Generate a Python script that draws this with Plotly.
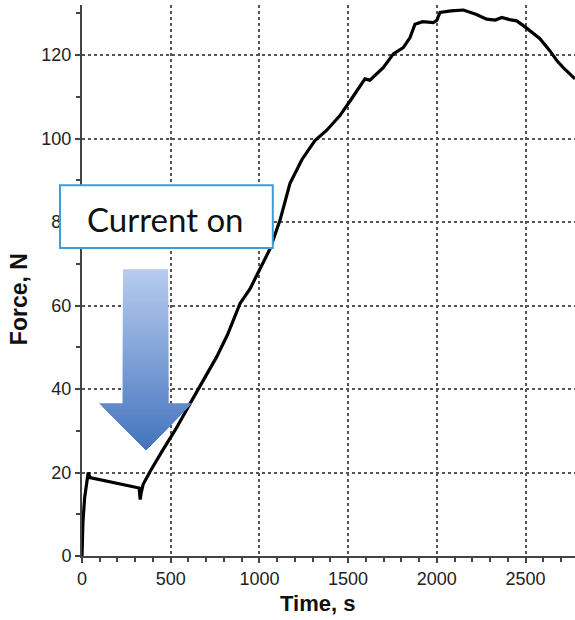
import plotly.graph_objects as go

time_s = [0, 5, 15, 35, 45, 100, 200, 300, 322, 328, 333, 345, 383, 450, 530, 609,
          680, 759, 820, 891, 947, 1000, 1060, 1116, 1172, 1240, 1313, 1380, 1454,
          1511, 1560, 1595, 1623, 1660, 1698, 1755, 1811, 1849, 1877, 1920, 1980,
          2000, 2018, 2080, 2150, 2220, 2281, 2330, 2366, 2410, 2450, 2490, 2526,
          2580, 2638, 2680, 2713, 2750, 2779]
force_N = [0, 8, 14, 20, 18.8, 18.3, 17.5, 16.6, 16.3, 13.5, 15, 17.2, 20.2, 25, 30.5, 36.5,
           41.7, 47.7, 53, 60.5, 64, 68.5, 73.6, 80.4, 89.2, 95, 99.5, 102, 105.5,
           109, 112, 114.3, 114, 115.5, 117, 120.3, 121.8, 124.2, 127.4, 128, 127.8,
           128.3, 130.2, 130.6, 130.8, 129.8, 128.6, 128.4, 129, 128.5, 128.2, 127, 125.8,
           124, 121, 118.5, 117, 115.5, 114.3]

x_ticks = [0, 500, 1000, 1500, 2000, 2500]
y_ticks = [0, 20, 40, 60, 80, 100, 120]

fig = go.Figure()
fig.add_trace(go.Scatter(x=time_s, y=force_N, mode="lines",
                         line=dict(color="black", width=3.2), showlegend=False,
                         hoverinfo="skip"))

# gradient arrow (data coordinates), drawn as nested overlapping pieces (no seams)
shaft_x0, shaft_x1 = 231, 485
head_x0, head_x1 = 96, 620
tip_x = 361
y_top, y_head, y_tip = 68.7, 36.6, 25.4
c_top = (184, 204, 238)
c_bot = (68, 116, 190)

def col(y):
    f = (y_top - y) / (y_top - y_tip)
    r = [int(round(a + (b - a) * f)) for a, b in zip(c_top, c_bot)]
    return "rgb(%d,%d,%d)" % tuple(r)

shapes = []
n1 = 40
for i in range(n1):
    ya = y_top - (y_top - y_head) * i / n1
    yb = y_top - (y_top - y_head) * (i + 1) / n1
    shapes.append(dict(type="rect", xref="x", yref="y", x0=shaft_x0, x1=shaft_x1,
                       y0=y_head - 0.5, y1=ya, fillcolor=col((ya + yb) / 2),
                       line=dict(width=0), layer="above"))
n2 = 16
for i in range(n2):
    ya = y_head - (y_head - y_tip) * i / n2
    yb = y_head - (y_head - y_tip) * (i + 1) / n2
    fa = (ya - y_tip) / (y_head - y_tip)
    xa0 = tip_x - (tip_x - head_x0) * fa
    xa1 = tip_x + (head_x1 - tip_x) * fa
    path = "M %f,%f L %f,%f L %f,%f Z" % (xa0, ya, xa1, ya, tip_x, y_tip)
    shapes.append(dict(type="path", xref="x", yref="y", path=path,
                       fillcolor=col((ya + yb) / 2), line=dict(width=0), layer="above"))

# label box
shapes.append(dict(type="rect", xref="paper", yref="paper", x0=-0.0446, x1=0.387,
                   y0=0.559, y1=0.673, fillcolor="white",
                   line=dict(color="#3a9fd6", width=2), layer="above"))

fig.update_layout(
    width=575, height=620,
    margin=dict(l=82, r=0, t=5, b=64),
    plot_bgcolor="white", paper_bgcolor="white",
    shapes=shapes,
    annotations=[
        dict(text="Current on", xref="paper", yref="paper", x=0.17, y=0.612,
             xanchor="center", yanchor="middle",
             showarrow=False, font=dict(family="Lato", size=33, color="#111")),
        dict(text="<b>Time, s</b>", xref="paper", yref="paper", x=0.478, y=-0.087,
             xanchor="center", yanchor="middle",
             showarrow=False, font=dict(family="Liberation Sans", size=22, color="#111")),
        dict(text="<b>Force, N</b>", xref="paper", yref="paper", x=-0.128, y=0.466,
             xanchor="center", yanchor="middle",
             textangle=-90, showarrow=False,
             font=dict(family="Liberation Sans", size=23, color="#111")),
    ],
)
fig.update_xaxes(range=[0, 2779], tickvals=x_ticks, showline=True, linecolor="#444",
                 linewidth=2, ticks="outside", ticklen=5, tickcolor="#444", tickwidth=2,
                 showgrid=True, gridcolor="#555", griddash="dot", gridwidth=1.5,
                 zeroline=False,
                 tickfont=dict(family="Liberation Sans", size=18, color="#222"),
                 minor=dict(dtick=100, tick0=0, ticks="outside", ticklen=4,
                            tickcolor="#444", tickwidth=1.5, showgrid=False))
fig.update_yaxes(range=[0, 132], tickvals=y_ticks, showline=True, linecolor="#444",
                 linewidth=2, ticks="outside", ticklen=5, tickcolor="#444", tickwidth=2,
                 showgrid=True, gridcolor="#555", griddash="dot", gridwidth=1.5,
                 zeroline=False,
                 tickfont=dict(family="Liberation Sans", size=18, color="#222"),
                 minor=dict(dtick=10, tick0=0, ticks="outside", ticklen=4,
                            tickcolor="#444", tickwidth=1.5, showgrid=False))

fig.write_html("out.html")
